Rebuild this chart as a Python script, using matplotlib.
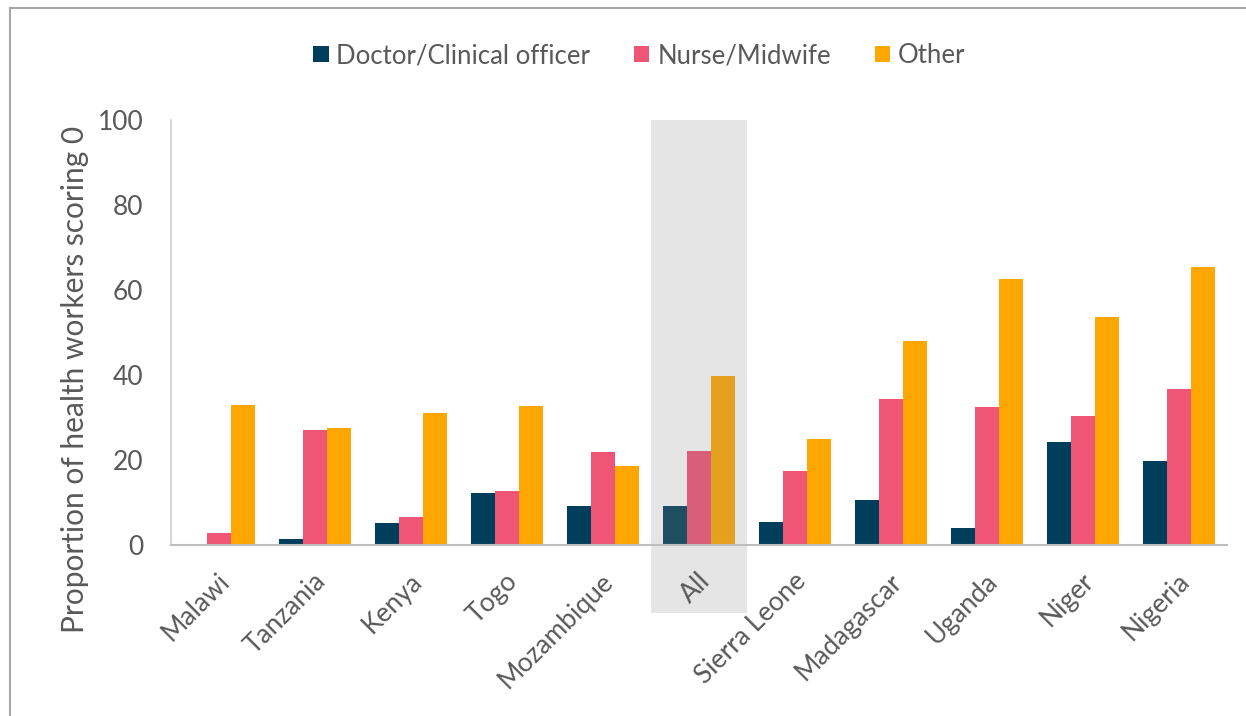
import matplotlib
matplotlib.use("Agg")
import matplotlib.pyplot as plt
from matplotlib.patches import Rectangle, Patch
import matplotlib.transforms as mtransforms
import numpy as np

categories = ["Malawi", "Tanzania", "Kenya", "Togo", "Mozambique", "All",
              "Sierra Leone", "Madagascar", "Uganda", "Niger", "Nigeria"]
doctor = [0.3, 1.3, 5.2, 12.2, 9.2, 9.2, 5.3, 10.6, 3.9, 24.2, 19.8]
nurse = [2.8, 27.0, 6.6, 12.7, 22.0, 22.2, 17.4, 34.4, 32.5, 30.4, 36.7]
other = [32.9, 27.6, 31.0, 32.7, 18.7, 39.8, 25.0, 48.1, 62.6, 53.6, 65.5]
series_names = ["Doctor/Clinical officer", "Nurse/Midwife", "Other"]
yticks = [0, 20, 40, 60, 80, 100]

colors = ["#003f5c", "#ef5675", "#ffa600"]
colors_all = ["#1f4e62", "#d95f78", "#e5a020"]
text_color = "#595959"

plt.rcParams['font.family'] = ['Lato', 'DejaVu Sans']

fig = plt.figure(figsize=(12.46, 7.16), dpi=100)
ax = fig.add_axes([171/1246, 1 - 545/716, (1227-171)/1246, (545-120)/716])

x = np.arange(len(categories))
w = 0.25
all_idx = categories.index("All")
for k, vals in enumerate([doctor, nurse, other]):
    cols = [colors_all[k] if i == all_idx else colors[k] for i in range(len(categories))]
    ax.bar(x + (k - 1) * w, vals, width=w, color=cols, linewidth=0, zorder=3)

# highlight band behind the "All" group
band = Rectangle((all_idx - 0.5, -16), 1.0, 116, facecolor="#e5e5e5",
                 edgecolor="none", zorder=1, clip_on=False)
ax.add_patch(band)

ax.set_xlim(-0.5, len(categories) - 0.5)
ax.set_ylim(0, 100)
ax.set_yticks(yticks)
ax.set_yticklabels([str(t) for t in yticks], fontsize=19, color=text_color)
ax.tick_params(axis='y', length=0, pad=20)
ax.set_xticks(x)
ax.set_xticklabels(categories, rotation=45, ha='right', va='top',
                   rotation_mode='anchor', fontsize=19, color=text_color)
ax.tick_params(axis='x', length=0, pad=17)
offset = mtransforms.ScaledTranslation(-2/100, 0, fig.dpi_scale_trans)
for lab in ax.get_xticklabels():
    lab.set_transform(lab.get_transform() + offset)

for s in ["top", "right"]:
    ax.spines[s].set_visible(False)
ax.spines["left"].set_color("#d0d0d0")
ax.spines["bottom"].set_color("#bfbfbf")
ax.spines["bottom"].set_linewidth(1.5)
ax.spines["left"].set_linewidth(1.2)
ax.spines["bottom"].set_zorder(4)

ax.set_ylabel("Proportion of health workers scoring 0", fontsize=21.5, color=text_color)
ax.yaxis.set_label_coords(-0.078, 0.39)

handles = [Patch(facecolor=c, edgecolor="none") for c in colors]
fig.legend(handles, series_names, loc="center", bbox_to_anchor=(0.513, 0.922),
           ncol=3, frameon=False, fontsize=18.5, handlelength=0.6, handleheight=0.6,
           handletextpad=0.3, columnspacing=1.7, labelcolor=text_color)

# outer frame of the figure panel
fig.add_artist(plt.Line2D([10/1246, 10/1246], [0, 1 - 8/716], color="#a6a6a6", lw=1.5))
fig.add_artist(plt.Line2D([10/1246, 1], [1 - 8/716, 1 - 8/716], color="#a6a6a6", lw=1.5))

fig.savefig("out.png", dpi=100)
